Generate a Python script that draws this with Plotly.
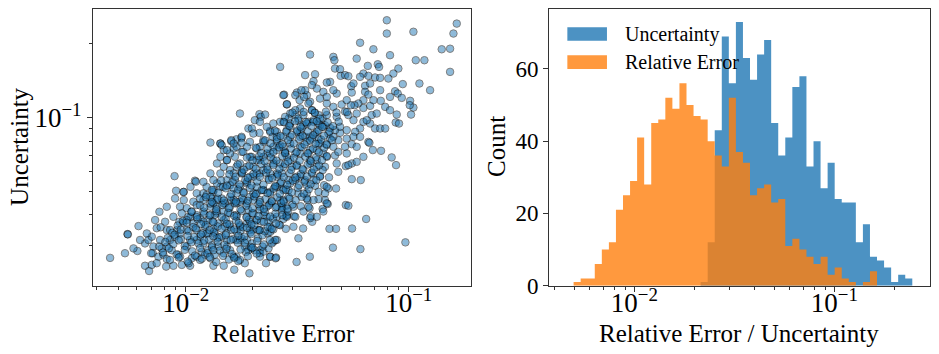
import numpy as np
import plotly.graph_objects as go

# scatter: relative error (x) vs uncertainty (y)
rel_error = [
    0.0797, 0.1641, 0.0797, 0.1049, 0.1586, 0.0605, 0.0694, 0.1405, 0.1532, 0.0361,
    0.0824, 0.0459, 0.0464, 0.0584, 0.1075, 0.1175, 0.0655, 0.0726, 0.0736, 0.0898,
    0.0853, 0.1532, 0.0467, 0.0492, 0.0495, 0.0518, 0.0536, 0.0343, 0.038, 0.0626,
    0.0605, 0.0659, 0.0706, 0.0744, 0.081, 0.0444, 0.0429, 0.0374, 0.1116, 0.1246,
    0.094, 0.0868, 0.0892, 0.093, 0.1014, 0.1049, 0.101, 0.1024, 0.0883, 0.0874,
    0.0904, 0.0749, 0.0784, 0.0475, 0.0555, 0.0552, 0.0637, 0.0637, 0.0659, 0.0626,
    0.0594, 0.0571, 0.055, 0.05, 0.0518, 0.0536, 0.0584, 0.0626, 0.0671, 0.0682,
    0.0626, 0.0671, 0.0706, 0.0744, 0.0784, 0.0605, 0.0575, 0.0527, 0.0492, 0.0467,
    0.0436, 0.0444, 0.0421, 0.04, 0.0411, 0.0394, 0.0378, 0.0368, 0.0361, 0.0349,
    0.0343, 0.0315, 0.031, 0.0284, 0.0276, 0.0265, 0.0326, 0.031, 0.0289, 0.0274,
    0.0294, 0.0326, 0.0343, 0.0361, 0.038, 0.0394, 0.0444, 0.0483, 0.0527, 0.0565,
    0.0659, 0.032, 0.0337, 0.0355, 0.0374, 0.0394,
    0.0666, 0.069, 0.0751, 0.0838, 0.0877, 0.0555, 0.0609, 0.0522, 0.0536, 0.0644,
    0.0966, 0.0607, 0.0457, 0.0557, 0.0472, 0.0441, 0.036, 0.0314, 0.0336, 0.0281,
    0.0306, 0.0281, 0.0369, 0.0361, 0.0364, 0.0411, 0.0433, 0.0421, 0.0394, 0.0359,
    0.0328, 0.0352, 0.0349, 0.0281, 0.027, 0.0472, 0.0436, 0.0417, 0.038, 0.0439,
    0.04, 0.0483, 0.0522, 0.0555, 0.0584, 0.0536, 0.0421, 0.0337, 0.0326, 0.031,
    0.0289, 0.0274, 0.0374, 0.0349, 0.0475, 0.0467, 0.0483, 0.0518, 0.0555, 0.0429,
    0.0414, 0.0387, 0.0361, 0.0315, 0.0294, 0.0279, 0.0326, 0.0361, 0.04,
    0.0175, 0.0214, 0.0217, 0.0204, 0.0215, 0.0191, 0.0198, 0.0214, 0.0239, 0.0256,
    0.0129, 0.0143, 0.016, 0.0169, 0.0178, 0.0223, 0.0245, 0.0256, 0.0227,
    0.0184, 0.0175, 0.0169, 0.0158, 0.0148, 0.0138, 0.0129, 0.012, 0.0112, 0.0105,
    0.0098, 0.011, 0.0098, 0.0101, 0.0105, 0.0112, 0.012, 0.0131, 0.0133, 0.0143,
    0.0153, 0.0148, 0.0153, 0.0166, 0.0178, 0.0164, 0.0148, 0.0143, 0.016, 0.0178,
    0.0194, 0.0208, 0.0231, 0.0223, 0.0239, 0.0256, 0.0265, 0.0247, 0.0231, 0.0215,
    0.0197, 0.0188, 0.0178, 0.0166, 0.0175, 0.0188, 0.0201, 0.0215, 0.0235, 0.0256,
    0.0274, 0.0299, 0.031, 0.0326, 0.0349, 0.0294, 0.0279, 0.0294, 0.0315, 0.0331,
    0.0315, 0.0294, 0.0274, 0.0256, 0.0239, 0.0223, 0.0208, 0.0194, 0.0181, 0.0169,
    0.0158, 0.0148, 0.0138, 0.0215, 0.0239, 0.0265, 0.0289, 0.032, 0.0256, 0.0231,
    0.0208, 0.0188, 0.0169, 0.0175, 0.0194, 0.0215, 0.0239, 0.0265, 0.0304, 0.027,
    0.0304, 0.0337, 0.0387, 0.0429, 0.0394, 0.0414, 0.0387, 0.0361, 0.0368, 0.0343,
    0.0387, 0.0355, 0.032, 0.0247, 0.0239, 0.0215, 0.0233,
    0.0256, 0.0197,
    0.0284, 0.031, 0.0355, 0.0374, 0.0349, 0.0411, 0.04, 0.0429, 0.0421, 0.0429,
    0.0394, 0.0368, 0.0387, 0.0414, 0.0374, 0.04, 0.0429, 0.0349, 0.032, 0.0337,
    0.0368, 0.031, 0.0294, 0.0279, 0.0265, 0.0274, 0.0284, 0.0324, 0.0355, 0.04,
    0.0429, 0.0414, 0.0387, 0.0368, 0.0339, 0.033,
    0.00458, 0.00534, 0.00548, 0.0055, 0.00614, 0.00607, 0.00657, 0.00685, 0.00704, 0.00762,
    0.00808, 0.00891, 0.00905, 0.00976, 0.0111, 0.00657, 0.0068, 0.00704, 0.00741, 0.00772,
    0.00716, 0.00711, 0.00754, 0.00794, 0.00822, 0.00817, 0.0088, 0.0096, 0.01046, 0.01064,
    0.00927, 0.00865, 0.00822, 0.0078, 0.00851, 0.00896, 0.00917, 0.00936, 0.00976, 0.0101,
    0.01046, 0.01028, 0.01064, 0.01082, 0.0112, 0.0116, 0.012, 0.0124, 0.0116, 0.0122,
    0.0112, 0.0116, 0.012, 0.0118, 0.0112, 0.0122, 0.0126, 0.0131, 0.0129, 0.0135,
    0.0148, 0.0165, 0.0184, 0.0193, 0.0169, 0.0158, 0.0148, 0.014, 0.0153, 0.0145,
    0.0135, 0.0126, 0.0126, 0.0129, 0.0135, 0.014, 0.015, 0.016, 0.0168, 0.0178,
    0.0188, 0.0198, 0.0191, 0.0204, 0.0215, 0.0223, 0.0235, 0.0243, 0.0252, 0.0215,
    0.0239, 0.0229, 0.0254, 0.0221, 0.0239, 0.0247,
    0.0274, 0.0235, 0.0211, 0.0201, 0.0188, 0.0175, 0.0169, 0.0158, 0.0148, 0.0138,
    0.0133, 0.0129, 0.0133, 0.0138, 0.0147, 0.0158, 0.0164, 0.0169, 0.0181, 0.0175,
    0.016, 0.015, 0.0145, 0.0188, 0.0191, 0.0201, 0.0215, 0.0223, 0.0208, 0.0194,
    0.0231, 0.0243, 0.0256, 0.027, 0.0284, 0.0215, 0.0201, 0.0208, 0.0223, 0.0239,
    0.0252, 0.0265, 0.0274, 0.0289, 0.027, 0.0256, 0.0239, 0.0223, 0.0208, 0.0194,
    0.0188, 0.0178, 0.0169, 0.0158, 0.0153, 0.0158, 0.0169, 0.0181, 0.0194, 0.0208,
    0.0223, 0.0239, 0.0256, 0.0274, 0.0284, 0.0265, 0.0247,
    0.0153, 0.0164, 0.0145, 0.0178,
    0.0133, 0.0253, 0.0103, 0.007, 0.00624, 0.00583, 0.00669, 0.00729, 0.00822, 0.0088,
    0.00943, 0.00822, 0.00896, 0.0096, 0.00767, 0.00851, 0.00943, 0.0101, 0.0112, 0.0124,
    0.0138, 0.0153, 0.0164, 0.0175, 0.0116, 0.00943, 0.00741, 0.012, 0.0133, 0.0108,
    0.0101, 0.0164, 0.0201, 0.0164, 0.0143, 0.0133, 0.0124, 0.0138, 0.0129, 0.012,
    0.0143, 0.0175, 0.0201, 0.0215, 0.0247, 0.0274, 0.0247, 0.0294, 0.0231, 0.0201,
    0.0188, 0.0284, 0.0326, 0.0459, 0.0459, 0.0492, 0.0565, 0.0527, 0.0584, 0.0626,
    0.0605, 0.0475, 0.0459, 0.0527, 0.0565, 0.0694, 0.0824, 0.0744, 0.0671, 0.0459,
    0.0429, 0.0648, 0.0718, 0.0824,
]

uncertainty = [
    0.2496, 0.2419, 0.2203, 0.224, 0.2203, 0.202, 0.190, 0.190, 0.191, 0.1808,
    0.1797, 0.1769, 0.1714, 0.174, 0.1714, 0.1714, 0.1625, 0.165, 0.161, 0.1585,
    0.1512, 0.1536, 0.1585, 0.1575, 0.148, 0.149, 0.1475, 0.149, 0.1502, 0.1512,
    0.1466, 0.148, 0.1457, 0.1452, 0.1443, 0.1398, 0.139, 0.1407, 0.1377, 0.1293,
    0.1369, 0.128, 0.1253, 0.1203, 0.117, 0.1098, 0.1123, 0.1028, 0.1028, 0.0954,
    0.0945, 0.117, 0.1105, 0.1253, 0.1265, 0.1342, 0.1347, 0.1273, 0.1241, 0.1177,
    0.1141, 0.1123, 0.1123, 0.113, 0.1057, 0.1023, 0.1038, 0.1094, 0.1116, 0.1023,
    0.096, 0.0945, 0.0902, 0.0902, 0.0902, 0.0902, 0.0874, 0.0888, 0.0866, 0.0888,
    0.086, 0.0907, 0.093, 0.093, 0.099, 0.1023, 0.1048, 0.1071, 0.1159, 0.1234,
    0.1293, 0.1265, 0.1234, 0.113, 0.124, 0.161, 0.109, 0.1023, 0.099, 0.096,
    0.0916, 0.0874, 0.0834, 0.0834, 0.086, 0.082, 0.082, 0.0808, 0.082, 0.0834,
    0.0795, 0.097, 0.093, 0.096, 0.0975, 0.0945,
    0.0788, 0.0736, 0.0731, 0.0687, 0.0639, 0.056, 0.0555, 0.0439, 0.0436, 0.0385,
    0.0309, 0.029, 0.0294, 0.0352, 0.0351, 0.0351, 0.027, 0.0257, 0.0352, 0.0351,
    0.0395, 0.0395, 0.0375, 0.0388, 0.0395, 0.0423, 0.0443, 0.046, 0.0464, 0.0426,
    0.0434, 0.046, 0.049, 0.0435, 0.0426, 0.0513, 0.0513, 0.0529, 0.0526, 0.057,
    0.0576, 0.06, 0.0633, 0.0649, 0.0659, 0.0639, 0.0629, 0.061, 0.0573, 0.0555,
    0.0505, 0.046, 0.0555, 0.0529, 0.0649, 0.07, 0.0724, 0.0759, 0.0778, 0.0771,
    0.0713, 0.067, 0.0649, 0.0639, 0.067, 0.0713, 0.0713, 0.0736, 0.0783,
    0.1038, 0.1032, 0.1006, 0.0975, 0.096, 0.0902, 0.0902, 0.0865, 0.0883, 0.0874,
    0.079, 0.0783, 0.08, 0.0815, 0.0825, 0.0795, 0.0834, 0.0795, 0.1028,
    0.0297, 0.0316, 0.0342, 0.0358, 0.0381, 0.0406, 0.0432, 0.046, 0.049, 0.0521,
    0.0497, 0.0552, 0.046, 0.0426, 0.0393, 0.0399, 0.0413, 0.0467, 0.0497, 0.0521,
    0.0555, 0.0629, 0.067, 0.0691, 0.0724, 0.0747, 0.0736, 0.0783, 0.0808, 0.0834,
    0.0795, 0.0747, 0.0713, 0.0808, 0.0874, 0.0834, 0.0771, 0.067, 0.0629, 0.067,
    0.0691, 0.0629, 0.0591, 0.0555, 0.0521, 0.0538, 0.0573, 0.0591, 0.0564, 0.0591,
    0.0629, 0.0629, 0.0713, 0.0759, 0.0795, 0.0783, 0.0724, 0.0834, 0.0874, 0.0902,
    0.0573, 0.0538, 0.0513, 0.0521, 0.0497, 0.0505, 0.049, 0.0474, 0.046, 0.0446,
    0.0432, 0.0446, 0.046, 0.0432, 0.0446, 0.046, 0.0474, 0.049, 0.0393, 0.0393,
    0.0381, 0.0393, 0.04, 0.0358, 0.0347, 0.0347, 0.0358, 0.0363, 0.0358, 0.0432,
    0.0432, 0.0413, 0.0393, 0.0446, 0.0497, 0.0413, 0.0629, 0.067, 0.0591, 0.0555,
    0.0736, 0.0713, 0.0321, 0.0311, 0.027, 0.0287, 0.0336,
    0.0316, 0.0292,
    0.0399, 0.0393, 0.0432, 0.046, 0.0467, 0.061, 0.0573, 0.0521, 0.049, 0.0691,
    0.0783, 0.082, 0.0874, 0.0916, 0.096, 0.099, 0.1023, 0.0945, 0.099, 0.1023,
    0.1071, 0.1071, 0.1038, 0.1006, 0.096, 0.1234, 0.1134, 0.1177, 0.1141, 0.1195,
    0.1141, 0.1273, 0.1313, 0.1356, 0.1214, 0.1293,
    0.0267, 0.0279, 0.0334, 0.0333, 0.036, 0.0285, 0.0248, 0.0236, 0.025, 0.0412,
    0.0375, 0.0576, 0.0502, 0.0496, 0.0547, 0.0306, 0.0316, 0.0326, 0.0353, 0.0356,
    0.0297, 0.0279, 0.027, 0.0275, 0.0264, 0.0246, 0.0248, 0.025, 0.0248, 0.0266,
    0.0275, 0.0287, 0.0297, 0.0292, 0.0316, 0.0326, 0.0347, 0.0375, 0.0372, 0.0347,
    0.0316, 0.0393, 0.0413, 0.0453, 0.0439, 0.0467, 0.049, 0.0482, 0.0387, 0.0358,
    0.0347, 0.0326, 0.0306, 0.0283, 0.027, 0.0275, 0.0287, 0.0301, 0.0266, 0.0275,
    0.0248, 0.0239, 0.0254, 0.0231, 0.027, 0.0287, 0.0279, 0.0297, 0.0316, 0.0326,
    0.0336, 0.0336, 0.0381, 0.04, 0.04, 0.0369, 0.0358, 0.0347, 0.0316, 0.0321,
    0.0316, 0.0306, 0.0287, 0.0287, 0.0279, 0.0283, 0.0292, 0.0306, 0.0316, 0.027,
    0.027, 0.0254, 0.0268, 0.0297, 0.0341, 0.0349,
    0.0385, 0.0375, 0.0347, 0.0349, 0.0369, 0.0363, 0.0393, 0.0406, 0.0413, 0.0432,
    0.0446, 0.0474, 0.0505, 0.0538, 0.0521, 0.0529, 0.0513, 0.049, 0.0497, 0.0453,
    0.046, 0.0446, 0.0467, 0.0446, 0.0419, 0.0406, 0.0419, 0.04, 0.0381, 0.0375,
    0.0432, 0.0453, 0.0432, 0.0419, 0.0393, 0.046, 0.049, 0.0521, 0.0505, 0.049,
    0.0521, 0.0538, 0.0505, 0.0555, 0.0591, 0.0573, 0.0591, 0.061, 0.0591, 0.0573,
    0.0546, 0.06, 0.0629, 0.061, 0.067, 0.0713, 0.0759, 0.0724, 0.0691, 0.067,
    0.0691, 0.0713, 0.0736, 0.0759, 0.0691, 0.0649, 0.0649,
    0.0736, 0.0783, 0.0771, 0.0788,
    0.0248, 0.0266, 0.0254, 0.0279, 0.0316, 0.0292, 0.0336, 0.0381, 0.0347, 0.0393,
    0.0432, 0.0432, 0.0467, 0.0406, 0.0316, 0.0347, 0.0336, 0.0297, 0.0316, 0.0336,
    0.0321, 0.0297, 0.027, 0.0262, 0.0262, 0.027, 0.0254, 0.0375, 0.0352, 0.0369,
    0.0381, 0.046, 0.046, 0.0591, 0.0591, 0.0555, 0.0521, 0.0649, 0.0591, 0.0546,
    0.0691, 0.0649, 0.0629, 0.0759, 0.0759, 0.0834, 0.0945, 0.0945, 0.0916, 0.086,
    0.0759, 0.0888, 0.0834, 0.0759, 0.0834, 0.0916, 0.0975, 0.0713, 0.0759, 0.0691,
    0.0834, 0.1006, 0.1105, 0.1177, 0.1377, 0.1177, 0.1214, 0.1293, 0.1377, 0.1293,
    0.1214, 0.0975, 0.1038, 0.1071,
]

# dense core of the cloud, where single points can't be told apart
rel_error_core = [
    0.0085, 0.0102, 0.0118, 0.0137, 0.0156, 0.0172,
    0.0079, 0.0091, 0.0107, 0.0125, 0.0142, 0.0161, 0.0186, 0.0208,
    0.0076, 0.0088, 0.0099, 0.0114, 0.0131, 0.0149, 0.0171, 0.0196, 0.0224,
    0.0083, 0.0095, 0.0109, 0.0127, 0.0141, 0.0163, 0.0183, 0.0211, 0.0238,
    0.0087, 0.0103, 0.0119, 0.0134, 0.0152, 0.0176, 0.0195, 0.0226,
    0.0092, 0.0108, 0.0123, 0.0139, 0.0157, 0.0181, 0.0203, 0.0233, 0.0262,
    0.0097, 0.0113, 0.0132, 0.0151, 0.0168, 0.0192, 0.0218, 0.0246,
    0.0106, 0.0121, 0.0137, 0.0155, 0.0178, 0.0199, 0.0226, 0.0252, 0.0287,
    0.0116, 0.0129, 0.0146, 0.0166, 0.0187, 0.0212, 0.0236, 0.0268, 0.0301,
    0.0123, 0.0139, 0.0158, 0.0179, 0.0203, 0.0228, 0.0257, 0.0292, 0.0331,
    0.0131, 0.0151, 0.0172, 0.0194, 0.0219, 0.0248, 0.0281, 0.0318, 0.0356,
    0.0144, 0.0162, 0.0185, 0.0209, 0.0236, 0.0268, 0.0302, 0.0341, 0.0385,
    0.0157, 0.0179, 0.0201, 0.0229, 0.0259, 0.0292, 0.0328, 0.0367,
    0.0171, 0.0193, 0.0218, 0.0247, 0.0279, 0.0314, 0.0352, 0.0396,
    0.0188, 0.0213, 0.0241, 0.0271, 0.0306, 0.0343, 0.0384, 0.0429,
    0.0206, 0.0233, 0.0262, 0.0297, 0.0331, 0.0372, 0.0418,
    0.0227, 0.0256, 0.0288, 0.0322, 0.0361, 0.0405, 0.0452,
    0.0251, 0.0282, 0.0316, 0.0353, 0.0394, 0.0441,
    0.0276, 0.0309, 0.0346, 0.0387, 0.0433, 0.0485,
    0.0301, 0.0338, 0.0379, 0.0425, 0.0474, 0.0528,
    0.0093, 0.0110, 0.0128, 0.0147, 0.0165, 0.0190,
    0.0084, 0.0099, 0.0116, 0.0133, 0.0152, 0.0176, 0.0199,
    0.0081, 0.0093, 0.0106, 0.0121, 0.0139, 0.0159, 0.0184, 0.0209,
    0.0089, 0.0102, 0.0117, 0.0133, 0.0151, 0.0172, 0.0197, 0.0221,
    0.0095, 0.0111, 0.0128, 0.0145, 0.0165, 0.0188, 0.0214, 0.0243,
    0.0101, 0.0117, 0.0133, 0.0153, 0.0173, 0.0197, 0.0224, 0.0254,
    0.0112, 0.0128, 0.0145, 0.0165, 0.0187, 0.0212, 0.0239, 0.0271,
    0.0121, 0.0137, 0.0156, 0.0176, 0.0199, 0.0224, 0.0253, 0.0286,
    0.0131, 0.0148, 0.0168, 0.0190, 0.0215, 0.0243, 0.0275, 0.0311,
    0.0140, 0.0160, 0.0182, 0.0206, 0.0233, 0.0264, 0.0299, 0.0338,
    0.0153, 0.0174, 0.0197, 0.0223, 0.0252, 0.0285, 0.0322, 0.0363,
    0.0167, 0.0190, 0.0215, 0.0244, 0.0275, 0.0310, 0.0349,
    0.0182, 0.0206, 0.0233, 0.0263, 0.0297, 0.0334, 0.0375,
    0.0199, 0.0226, 0.0255, 0.0288, 0.0324, 0.0364, 0.0408,
    0.0218, 0.0247, 0.0279, 0.0314, 0.0352, 0.0395,
    0.0240, 0.0271, 0.0305, 0.0341, 0.0382, 0.0428,
    0.0266, 0.0299, 0.0334, 0.0373, 0.0417,
    0.0291, 0.0327, 0.0366, 0.0409, 0.0457,
]
uncertainty_core = [
    0.0262, 0.0258, 0.0265, 0.0257, 0.0263, 0.0259,
    0.0281, 0.0276, 0.0284, 0.0279, 0.0286, 0.0277, 0.0282, 0.0278,
    0.0297, 0.0304, 0.0299, 0.0306, 0.0295, 0.0302, 0.0308, 0.0296, 0.0303,
    0.0322, 0.0318, 0.0325, 0.0317, 0.0324, 0.0319, 0.0326, 0.0321, 0.0316,
    0.0338, 0.0344, 0.0337, 0.0342, 0.0336, 0.0345, 0.0339, 0.0343,
    0.0362, 0.0357, 0.0364, 0.0359, 0.0366, 0.0356, 0.0363, 0.0358, 0.0365,
    0.0378, 0.0384, 0.0377, 0.0385, 0.0379, 0.0383, 0.0376, 0.0386,
    0.0412, 0.0405, 0.0414, 0.0408, 0.0415, 0.0406, 0.0411, 0.0404, 0.0413,
    0.0437, 0.0445, 0.0439, 0.0446, 0.0436, 0.0443, 0.0438, 0.0447, 0.0441,
    0.0473, 0.0466, 0.0475, 0.0468, 0.0476, 0.0465, 0.0472, 0.0467, 0.0474,
    0.0506, 0.0514, 0.0508, 0.0515, 0.0505, 0.0512, 0.0507, 0.0516, 0.0509,
    0.0553, 0.0546, 0.0555, 0.0548, 0.0556, 0.0545, 0.0552, 0.0547, 0.0554,
    0.0586, 0.0594, 0.0588, 0.0595, 0.0585, 0.0592, 0.0587, 0.0596,
    0.0643, 0.0636, 0.0645, 0.0638, 0.0646, 0.0635, 0.0642, 0.0637,
    0.0686, 0.0694, 0.0688, 0.0695, 0.0685, 0.0692, 0.0687, 0.0696,
    0.0753, 0.0745, 0.0755, 0.0747, 0.0756, 0.0746, 0.0752,
    0.0806, 0.0815, 0.0808, 0.0816, 0.0805, 0.0812, 0.0807,
    0.0883, 0.0875, 0.0885, 0.0877, 0.0886, 0.0876,
    0.0956, 0.0965, 0.0958, 0.0966, 0.0955, 0.0962,
    0.1047, 0.1054, 0.1045, 0.1056, 0.1048, 0.1053,
    0.0268, 0.0273, 0.0269, 0.0272, 0.0267, 0.0271,
    0.0292, 0.0288, 0.0293, 0.0287, 0.0291, 0.0289, 0.0294,
    0.0310, 0.0315, 0.0309, 0.0314, 0.0311, 0.0316, 0.0308, 0.0313,
    0.0332, 0.0328, 0.0333, 0.0327, 0.0331, 0.0329, 0.0334, 0.0330,
    0.0348, 0.0353, 0.0347, 0.0352, 0.0349, 0.0354, 0.0346, 0.0351,
    0.0372, 0.0367, 0.0373, 0.0368, 0.0371, 0.0366, 0.0374, 0.0369,
    0.0392, 0.0398, 0.0393, 0.0397, 0.0391, 0.0396, 0.0394, 0.0399,
    0.0428, 0.0422, 0.0427, 0.0421, 0.0426, 0.0423, 0.0429, 0.0424,
    0.0452, 0.0458, 0.0453, 0.0457, 0.0451, 0.0456, 0.0454, 0.0459,
    0.0493, 0.0487, 0.0492, 0.0486, 0.0491, 0.0488, 0.0494, 0.0489,
    0.0527, 0.0533, 0.0528, 0.0532, 0.0526, 0.0531, 0.0529, 0.0534,
    0.0573, 0.0567, 0.0572, 0.0566, 0.0571, 0.0568, 0.0574,
    0.0612, 0.0618, 0.0613, 0.0617, 0.0611, 0.0616, 0.0614,
    0.0668, 0.0662, 0.0667, 0.0661, 0.0666, 0.0663, 0.0669,
    0.0716, 0.0723, 0.0717, 0.0722, 0.0715, 0.0721,
    0.0784, 0.0777, 0.0783, 0.0776, 0.0782, 0.0778,
    0.0841, 0.0848, 0.0842, 0.0847, 0.0843,
    0.0924, 0.0917, 0.0923, 0.0916, 0.0922,
]

# histogram: 48 log-spaced bins between these limits
hist_lo = 0.00497
hist_hi = 0.2455
uncertainty_counts = [
    0, 0, 0, 0, 0, 0, 0, 0, 0, 0, 0, 0, 0, 0, 0, 0, 0, 0,
    1, 12, 43, 69, 56, 73, 63, 57, 64, 68, 45, 36, 41, 55, 58, 33, 40, 27,
    34, 24, 23, 23, 12, 17, 8, 7, 5, 1, 3, 2,
]
rel_error_counts = [
    1, 2, 2, 6, 10, 12, 21, 25, 29, 41, 28, 45, 46, 52, 49, 56, 50, 47, 46, 40,
    36, 33, 52, 37, 34, 25, 27, 28, 23, 24, 11, 13, 10, 8, 6, 8, 3, 5, 2, 1,
    0, 1, 4, 0, 0, 0, 0, 0,
]

assert len(rel_error) == len(uncertainty)
assert len(rel_error_core) == len(uncertainty_core)

FONT = 'Liberation Serif'
AXIS_COLOUR = '#333333'
BLUE_FILL = 'rgba(31,119,180,0.8)'
ORANGE_FILL = 'rgba(255,127,14,0.8)'

edges = np.logspace(np.log10(hist_lo), np.log10(hist_hi), len(rel_error_counts) + 1)

fig = go.Figure()

fig.add_trace(go.Scatter(
    x=rel_error + rel_error_core, y=uncertainty + uncertainty_core, mode='markers',
    marker=dict(size=7.5, color='#1f77b4', opacity=0.5,
                line=dict(color='black', width=1)),
    xaxis='x', yaxis='y', showlegend=False,
))

# histograms as filled steps so the log x-axis handles the bin edges
for counts, fill in [(uncertainty_counts, BLUE_FILL), (rel_error_counts, ORANGE_FILL)]:
    fig.add_trace(go.Scatter(
        x=list(edges), y=list(counts) + [counts[-1]],
        mode='lines', line=dict(shape='hv', width=0, color=fill),
        fill='tozeroy', fillcolor=fill,
        xaxis='x2', yaxis='y2', showlegend=False, hoverinfo='skip',
    ))


def sup(p):
    return '10<sup>\u2212%d</sup>' % p


axis_common = dict(
    showline=True, mirror=True, linecolor=AXIS_COLOUR, linewidth=1,
    ticks='outside', ticklen=5, tickwidth=1, tickcolor=AXIS_COLOUR,
    showgrid=False, zeroline=False, automargin=False,
    tickfont=dict(family=FONT, size=23, color='black'),
)
log_tickfont = dict(family=FONT, size=27, color='black')
minor_x = [0.004, 0.005, 0.006, 0.007, 0.008, 0.009,
           0.02, 0.03, 0.04, 0.05, 0.06, 0.07, 0.08, 0.09, 0.2]
minor_y = [0.03, 0.04, 0.05, 0.06, 0.07, 0.08, 0.09, 0.2]


def minor(vals):
    return dict(tickmode='array', tickvals=vals, ticks='outside',
                ticklen=3, tickcolor=AXIS_COLOUR)


fig.update_layout(
    width=939, height=354,
    margin=dict(l=0, r=0, t=0, b=0, autoexpand=False),
    plot_bgcolor='white', paper_bgcolor='white',
    font=dict(family=FONT, color='black'),
    xaxis=dict(axis_common, type='log', domain=[0.0990, 0.5016], anchor='y',
               range=[-2.416, -0.721], tickvals=[0.01, 0.1], ticktext=[sup(2), sup(1)],
               tickfont=log_tickfont, ticklabelstandoff=-12, minor=minor(minor_x)),
    yaxis=dict(axis_common, type='log', domain=[0.193, 0.9737], anchor='x',
               range=[-1.687, -0.558], tickvals=[0.1], ticktext=[sup(1)],
               tickfont=log_tickfont, minor=minor(minor_y)),
    xaxis2=dict(axis_common, type='log', domain=[0.5847, 0.9904], anchor='y2',
                range=[-2.4265, -0.5215], tickvals=[0.01, 0.1], ticktext=[sup(2), sup(1)],
                tickfont=log_tickfont, ticklabelstandoff=-12, minor=minor(minor_x)),
    yaxis2=dict(axis_common, domain=[0.193, 0.9737], anchor='x2',
                range=[0, 76.5], tickvals=[0, 20, 40, 60]),
)

title_font = dict(family=FONT, size=25, color='black')
annotations = [
    dict(text='Relative Error', x=0.3014, y=0.059, textangle=0),
    dict(text='Uncertainty', x=0.0213, y=0.585, textangle=-90),
    dict(text='Count', x=0.5293, y=0.585, textangle=-90),
    dict(text='Relative Error / Uncertainty', x=0.787, y=0.059, textangle=0),
]
for a in annotations:
    fig.add_annotation(xref='paper', yref='paper', showarrow=False,
                       xanchor='center', yanchor='middle', font=title_font, **a)

# legend drawn by hand: patches plus labels
legend_items = [('Uncertainty', BLUE_FILL, 0.9229, 0.8850),
                ('Relative Error', ORANGE_FILL, 0.8438, 0.8051)]
for label, fill, y_top, y_bot in legend_items:
    fig.add_shape(type='rect', xref='paper', yref='paper',
                  x0=0.6042, x1=0.6464, y0=y_bot, y1=y_top,
                  fillcolor=fill, line=dict(width=0), layer='above')
    fig.add_annotation(xref='paper', yref='paper', showarrow=False,
                       x=0.6635, y=(y_top + y_bot) / 2, xanchor='left', yanchor='middle',
                       text=label, font=dict(family=FONT, size=20, color='black'))

# drop the browser's default body margin so the figure sits at the page corner
fig.write_html('out.html', config={'displayModeBar': False},
               post_script="document.body.style.margin='0px';")
